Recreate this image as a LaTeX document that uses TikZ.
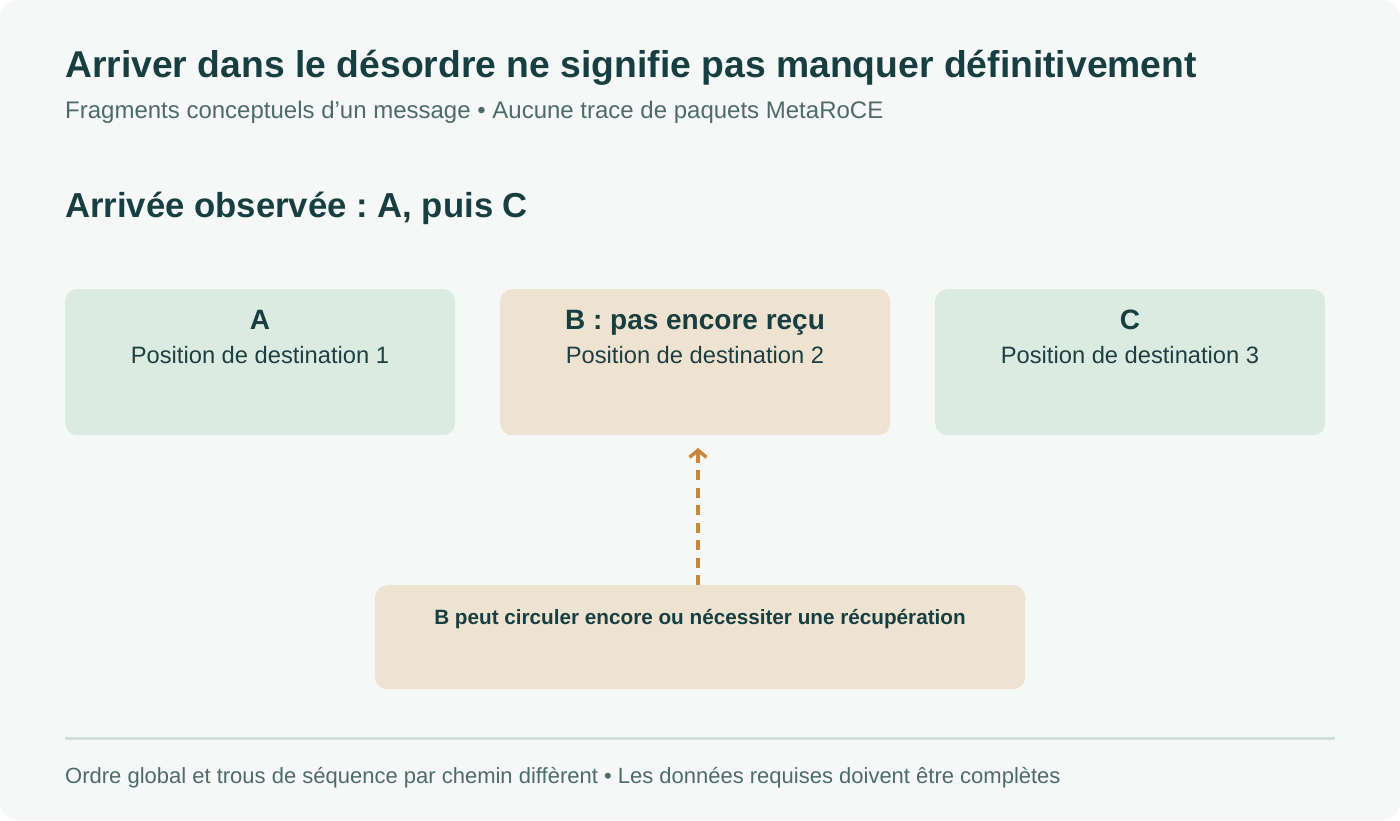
\documentclass[tikz,border=0pt]{standalone}
\usepackage{fontspec}
\setmainfont{Liberation Sans}
\usetikzlibrary{arrows.meta}
\definecolor{bgc}{HTML}{F6F8F7}
\definecolor{titlec}{HTML}{173F42}
\definecolor{subc}{HTML}{4E6B6C}
\definecolor{greenbox}{HTML}{DCEBE2}
\definecolor{tanbox}{HTML}{EEE2D0}
\definecolor{arrowc}{HTML}{C8883C}
\definecolor{rulec}{HTML}{CEDFDD}
\definecolor{boxtext}{HTML}{1E3F42}
\frenchspacing
\tikzset{
  panel/.style={rectangle, rounded corners=12pt, draw=none, inner sep=0pt, anchor=north west},
  greenpanel/.style={panel, fill=greenbox, minimum width=390pt, minimum height=146pt},
  tanpanel/.style={panel, fill=tanbox, minimum width=390pt, minimum height=146pt},
  boxtitle/.style={anchor=base, inner sep=0pt, text=titlec, font=\fontsize{28}{32}\selectfont\bfseries},
  boxsub/.style={anchor=base, inner sep=0pt, text=boxtext, font=\fontsize{23.7}{28}\selectfont},
  pending/.style={draw=arrowc, line width=4pt, dash pattern=on 10pt off 7.5pt, -{Straight Barb[length=7pt,width=17pt,line width=3.5pt]}},
}
\begin{document}
\begin{tikzpicture}[x=1pt,y=-1pt]
\useasboundingbox (0,0) rectangle (1400,820);
\fill[white] (0,0) rectangle (1400,820);
\fill[bgc, rounded corners=18pt] (0,0) rectangle (1400,820);

\node[anchor=base west, inner sep=0pt, text=titlec, font=\fontsize{37.3}{42}\selectfont\bfseries] (title) at (65,77) {Arriver dans le désordre ne signifie pas manquer définitivement};
\node[anchor=base west, inner sep=0pt, text=subc, font=\fontsize{24}{28}\selectfont] (subtitle) at (65,118) {Fragments conceptuels d’un message • Aucune trace de paquets MetaRoCE};
\node[anchor=base west, inner sep=0pt, text=titlec, font=\fontsize{34.7}{40}\selectfont\bfseries] (section) at (65,217) {Arrivée observée : A, puis C};

\node[greenpanel] (boxA) at (65,289) {};
\node[tanpanel] (boxB) at (500,289) {};
\node[greenpanel] (boxC) at (935,289) {};

\node[boxtitle] (tA) at (260,329) {A};
\node[boxsub] (sA) at (260,363) {Position de destination 1};
\node[boxtitle] (tB) at (695,329) {B : pas encore reçu};
\node[boxsub] (sB) at (695,363) {Position de destination 2};
\node[boxtitle] (tC) at (1130,329) {C};
\node[boxsub] (sC) at (1130,363) {Position de destination 3};

\node[panel, fill=tanbox, minimum width=650pt, minimum height=104pt] (note) at (375,585) {};
\node[anchor=base, inner sep=0pt, text=titlec, font=\fontsize{20.7}{24}\selectfont\bfseries] (noteText) at (700,624) {B peut circuler encore ou nécessiter une récupération};

\coordinate (arrStart) at (698,585);
\coordinate (arrEnd) at (698,448);
\draw[pending] (arrStart) -- (arrEnd);

\coordinate (ruleL) at (65,738);
\coordinate (ruleR) at (1335,738);
\draw[rulec, line width=3pt] (ruleL) -- (ruleR);

\node[anchor=base west, inner sep=0pt, text=subc, font=\fontsize{22}{26}\selectfont] (footer) at (65,783) {Ordre global et trous de séquence par chemin diffèrent • Les données requises doivent être complètes};
\end{tikzpicture}
\end{document}
